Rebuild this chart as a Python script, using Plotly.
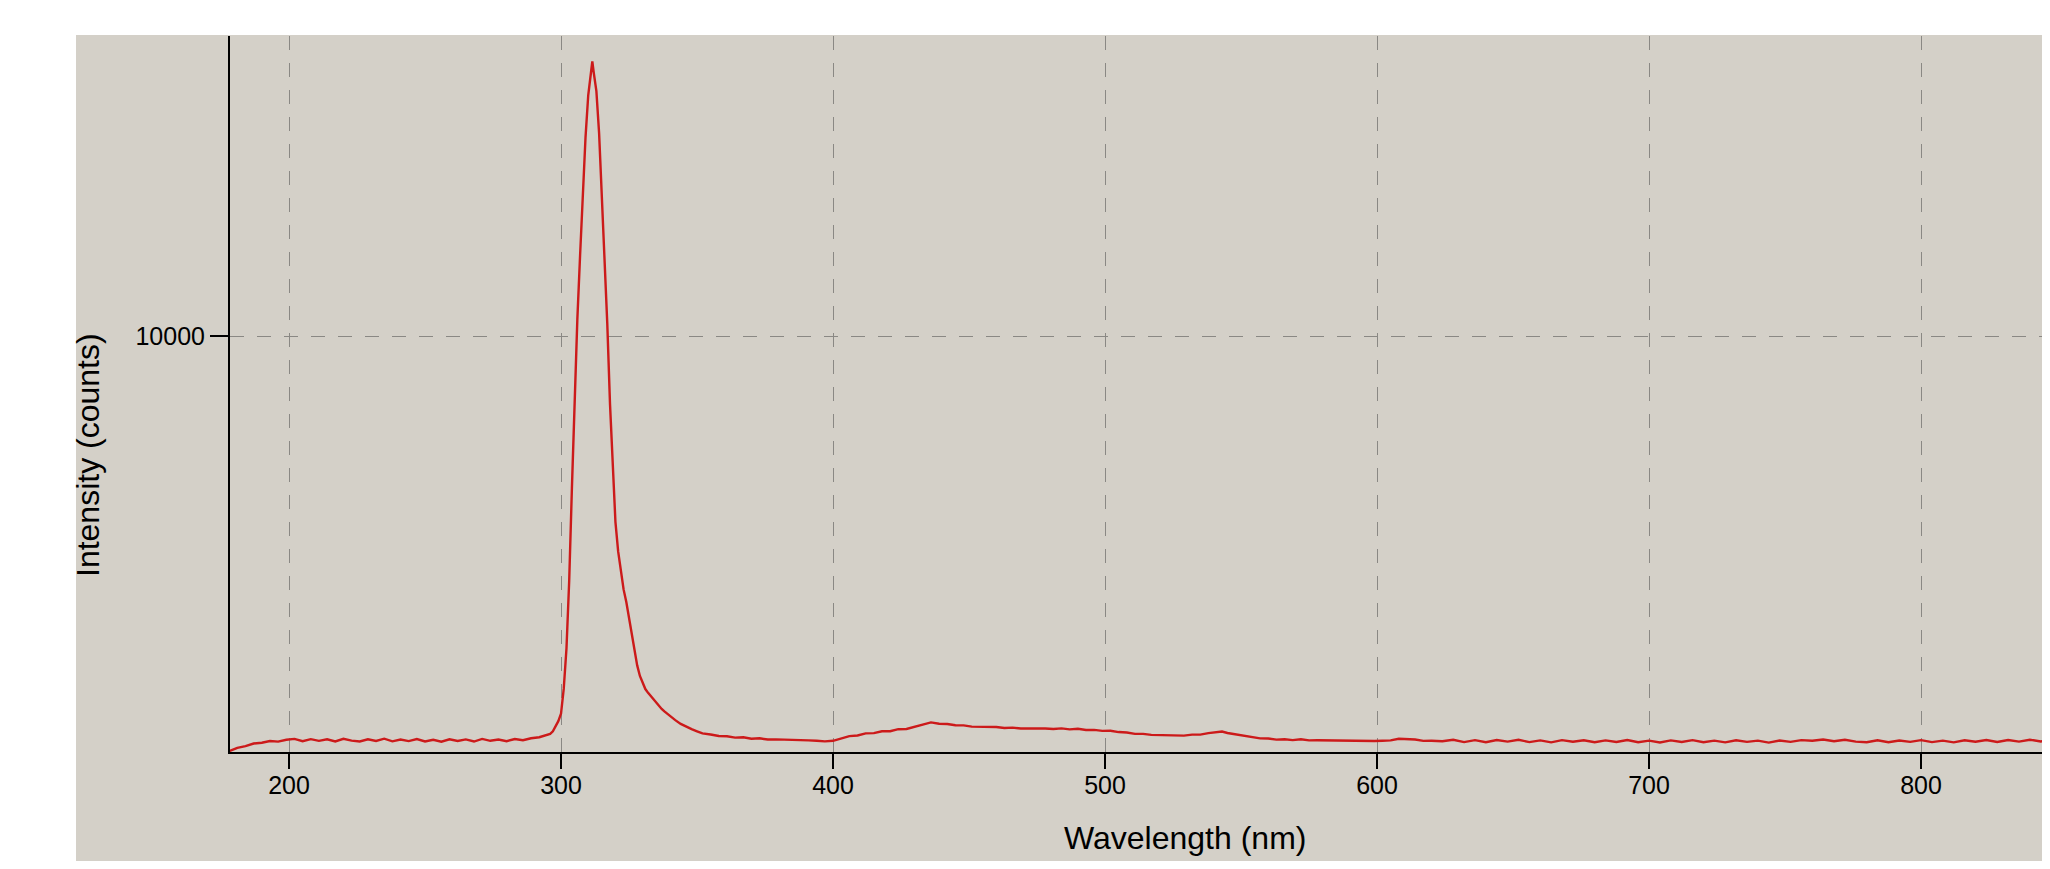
import plotly.graph_objects as go

# ---- data ----
wl_a = [178, 181, 184, 187, 190, 193, 196, 199, 202, 205, 208, 211, 214, 217, 220, 223, 226, 229, 232, 235,
        238, 241, 244, 247, 250, 253, 256, 259, 262, 265, 268, 271, 274, 277, 280, 283, 286, 289, 292, 295]
int_a = [170, 250, 290, 350, 370, 410, 395, 440, 460, 405, 455, 415, 450, 400, 462, 420, 398, 452, 410, 465,
         402, 447, 408, 458, 400, 440, 395, 452, 410, 448, 398, 460, 415, 445, 405, 458, 430, 475, 500, 555]

wl_b = [296, 297, 298, 299, 300, 301, 302, 303, 304, 305, 306, 307, 308, 309, 310, 311, 311.5, 312, 313, 314,
        315, 316, 317, 318, 319, 320, 321, 322, 323, 324, 325, 326, 327, 328, 329, 330, 331, 332, 333, 334,
        335, 336, 337, 338, 340, 342, 344, 346, 348, 350, 352]
int_b = [580, 640, 745, 880, 1060, 1650, 2600, 4200, 6400, 8600, 10400, 11900, 13300, 14700, 15700, 16300, 16500, 16250, 15800, 14800,
         13400, 12000, 10300, 8400, 6800, 5600, 4900, 4400, 4000, 3700, 3300, 2900, 2550, 2200, 1950, 1780, 1640, 1550, 1470, 1400,
         1320, 1240, 1170, 1110, 1000, 905, 815, 745, 690, 640, 590]

wl_c = [355, 358, 361, 364, 367, 370, 373, 376, 379, 382, 385, 388, 391, 394, 397, 400,
        403, 406, 409, 412, 415, 418, 421, 424, 427, 430, 433, 436, 439, 442, 445, 448, 451, 454, 457, 460,
        463, 466, 469, 472, 475, 478, 481, 484, 487, 490, 493, 496, 499, 502, 505, 508, 511, 514, 517, 520,
        523, 526, 529, 532, 535, 538, 541, 543, 545,
        548, 551, 554, 557, 560, 563, 566, 569, 572, 575, 578, 581, 584, 587, 590, 593, 596, 599, 602, 605,
        608, 611, 614, 617, 620]
int_c = [565, 528, 522, 490, 498, 465, 474, 445, 448, 438, 435, 426, 425, 418, 402, 415,
         470, 525, 540, 590, 598, 640, 642, 690, 695, 745, 795, 850, 818, 812, 782, 780, 750, 752, 740, 742,
         720, 728, 705, 710, 700, 708, 695, 710, 685, 700, 672, 675, 650, 652, 622, 612, 580, 580, 555, 555,
         545, 548, 538, 562, 562, 596, 615, 636, 600,
         570, 532, 510, 472, 468, 444, 452, 432, 450, 425, 430, 426, 428, 420, 420, 416, 414, 412, 418, 426,
         465, 455, 445, 414, 418]

wl_d = [624, 628, 632, 636, 640, 644, 648, 652, 656, 660, 664, 668, 672, 676, 680, 684, 688, 692, 696, 700,
        704, 708, 712, 716, 720, 724, 728, 732, 736, 740, 744, 748, 752, 756, 760, 764, 768, 772, 776, 780,
        784, 788, 792, 796, 800, 804, 808, 812, 816, 820, 824, 828, 832, 836, 840, 844, 848]
int_d = [405, 440, 385, 430, 380, 432, 395, 440, 385, 425, 378, 430, 392, 428, 380, 425, 388, 435, 382, 420,
         375, 425, 388, 430, 380, 420, 378, 428, 390, 418, 372, 422, 390, 432, 418, 445, 405, 440, 395, 380,
         428, 382, 422, 390, 430, 385, 420, 378, 428, 392, 432, 388, 435, 395, 440, 400, 430]

x_ticks = [200, 300, 400, 500, 600, 700, 800]
x_tick_text = ["200", "300", "400", "500", "600", "700", "800"]
y_ticks = [10000]
y_tick_text = ["10000"]

wavelength = wl_a + wl_b + wl_c + wl_d
intensity = int_a + int_b + int_c + int_d
assert len(wavelength) == len(intensity)

# ---- figure (page body has an 8px margin, so figure pixel = screen pixel - 8) ----
OFF = 8
W, H = 2050 - OFF, 869 - 2 * OFF
L, R, T = 230 - OFF, 0, 36 - OFF
B = H - (752 - OFF)
pw, ph = W - L - R, H - T - B

def px_x(p):  # screen pixel -> paper fraction
    return (p - OFF - L) / pw

def px_y(p):
    return (H - B - (p - OFF)) / ph

BG = "#d4d0c8"
FONT = "Arial, 'Liberation Sans', sans-serif"

fig = go.Figure()
fig.add_trace(go.Scatter(x=wavelength, y=intensity, mode="lines",
                         line=dict(color="#cc1a1a", width=2.4),
                         showlegend=False, hoverinfo="skip"))

fig.update_layout(
    width=W, height=H, autosize=False,
    margin=dict(l=L, r=R, t=T, b=B, pad=0),
    paper_bgcolor="white",
    plot_bgcolor=BG,
    font=dict(family=FONT, color="black", size=25),
    shapes=[dict(type="rect", xref="paper", yref="paper",
                 x0=px_x(76), x1=1.0, y0=px_y(869), y1=px_y(35),
                 fillcolor=BG, line=dict(width=0), layer="below")],
    annotations=[
        dict(text="Wavelength (nm)", xref="paper", yref="paper",
             x=px_x(1185), y=px_y(838), xanchor="center", yanchor="middle",
             showarrow=False, font=dict(family=FONT, size=32, color="black")),
        dict(text="Intensity (counts)", xref="paper", yref="paper",
             x=px_x(88), y=px_y(455), xanchor="center", yanchor="middle",
             textangle=-90, showarrow=False,
             font=dict(family=FONT, size=32, color="black")),
    ],
)

fig.update_xaxes(
    range=[178.3, 847.4], tickvals=x_ticks, ticktext=x_tick_text,
    showline=True, linecolor="black", linewidth=2, mirror=False,
    ticks="outside", ticklen=15, tickwidth=2, tickcolor="black",
    ticklabelstandoff=-5,
    showgrid=True, gridcolor="#8a8884", gridwidth=1, griddash="14px,13px",
    zeroline=False, tickfont=dict(size=25, family=FONT, color="black"),
)
fig.update_yaxes(
    range=[150, 17104], tickvals=y_ticks, ticktext=y_tick_text,
    showline=True, linecolor="black", linewidth=2, mirror=False,
    ticks="outside", ticklen=18, tickwidth=2, tickcolor="black",
    showgrid=True, gridcolor="#8a8884", gridwidth=1, griddash="14px,13px",
    zeroline=False, tickfont=dict(size=25, family=FONT, color="black"),
)

fig.write_html("out.html")
